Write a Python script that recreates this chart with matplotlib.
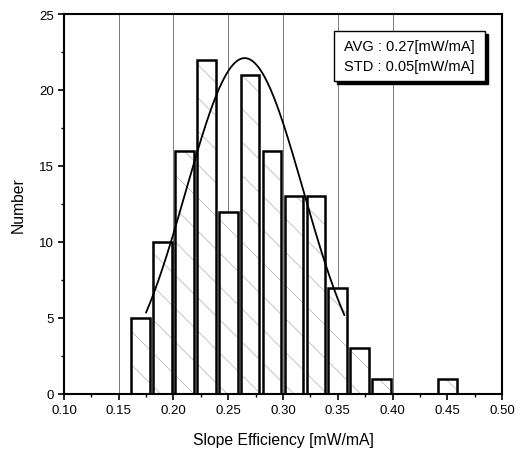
import numpy as np
import matplotlib.pyplot as plt
from matplotlib.patches import Rectangle

plt.rcParams['font.family'] = ['Liberation Sans', 'DejaVu Sans']
plt.rcParams['hatch.linewidth'] = 0.5

# histogram data
bin_centers = [0.17, 0.19, 0.21, 0.23, 0.25, 0.27, 0.29, 0.31, 0.33, 0.35, 0.37, 0.39, 0.45]
counts = [5, 10, 16, 22, 12, 21, 16, 13, 13, 7, 3, 1, 1]

# gaussian fit parameters (amplitude, centre, width, drawn range)
fit_amp = 22.1
fit_mu = 0.265
fit_sigma = 0.0535
fit_range = (0.175, 0.356)

fig = plt.figure(figsize=(5.22, 4.56), dpi=100)
ax = fig.add_axes([0.1226, 0.1338, 0.8391, 0.8333])

# thin vertical grid lines
for xg in [0.15, 0.20, 0.25, 0.30, 0.35, 0.40]:
    ax.axvline(xg, color='#666666', lw=0.6, zorder=0)

# hatched fill in light grey, then black outlines on top
ax.bar(bin_centers, counts, width=0.017, facecolor='white', edgecolor='#b0b0b0',
       linewidth=0, hatch='\\', zorder=2)
ax.bar(bin_centers, counts, width=0.017, facecolor='none', edgecolor='black',
       linewidth=1.8, zorder=3)

xs = np.linspace(fit_range[0], fit_range[1], 200)
ax.plot(xs, fit_amp * np.exp(-(xs - fit_mu) ** 2 / (2 * fit_sigma ** 2)),
        color='black', lw=1.3, zorder=4)

ax.set_xlim(0.10, 0.50)
ax.set_ylim(0, 25)
ax.set_xticks(np.arange(0.10, 0.501, 0.05))
ax.set_xticks(np.arange(0.125, 0.5, 0.05), minor=True)
ax.set_yticks(range(0, 26, 5))
ax.set_yticks(np.arange(2.5, 25, 5), minor=True)
ax.xaxis.set_major_formatter(plt.FuncFormatter(lambda v, p: f'{v:.2f}'))
ax.tick_params(which='major', length=4, width=1.2, labelsize=9.5)
ax.tick_params(which='minor', length=2.5, width=1)
for s in ax.spines.values():
    s.set_linewidth(1.5)

ax.set_xlabel('Slope Efficiency [mW/mA]', fontsize=11.3, labelpad=11)
ax.set_ylabel('Number', fontsize=11.3, labelpad=9)

# stats box with shadow
shadow = Rectangle((0.623, 0.816), 0.345, 0.131, transform=ax.transAxes,
                   facecolor='black', edgecolor='black', zorder=5)
box = Rectangle((0.616, 0.824), 0.345, 0.131, transform=ax.transAxes,
                facecolor='white', edgecolor='black', lw=1.0, zorder=6)
ax.add_patch(shadow)
ax.add_patch(box)
ax.text(0.788, 0.915, 'AVG : 0.27[mW/mA]', transform=ax.transAxes, ha='center',
        va='center', fontsize=10.5, zorder=7)
ax.text(0.788, 0.862, 'STD : 0.05[mW/mA]', transform=ax.transAxes, ha='center',
        va='center', fontsize=10.5, zorder=7)

fig.savefig('out.png', dpi=100)
